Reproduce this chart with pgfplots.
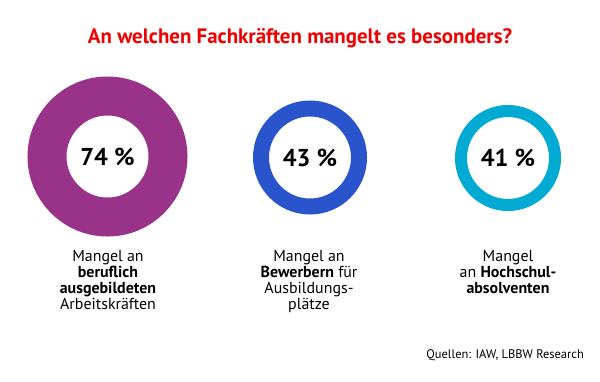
\documentclass[border=0pt]{standalone}
\usepackage{pgfplots}
\pgfplotsset{compat=1.18}
\usepackage{fontspec}
\setmainfont{PT Sans}
\definecolor{titlered}{RGB}{240,0,0}
\definecolor{cpurple}{RGB}{153,51,137}
\definecolor{cblue}{RGB}{41,84,204}
\definecolor{ccyan}{RGB}{0,170,210}
\begin{document}
\begin{tikzpicture}
\begin{axis}[
  scale only axis, width=600bp, height=381bp,
  xmin=0, xmax=600, ymin=0, ymax=381, y dir=reverse,
  hide axis, clip=false,
  point meta=explicit symbolic,
  nodes near coords={\pgfplotspointmeta{} \%},
  every node near coord/.append style={font=\bfseries\fontsize{24.5}{24}\selectfont, text=black, anchor=center, inner sep=0pt},
]
% ring: center (x,y) in px, value as meta
\addplot[cpurple, only marks, mark=o, mark size=60.5bp, mark options={line width=39bp}] coordinates {(107.5,156.5) [74]};
\addplot[cblue, only marks, mark=o, mark size=49bp, mark options={line width=16bp}] coordinates {(310,157.5) [43]};
\addplot[ccyan, only marks, mark=o, mark size=47bp, mark options={line width=12bp}] coordinates {(508,158) [41]};

\node[anchor=base, text=titlered, font=\bfseries\fontsize{21}{24}\selectfont, inner sep=0pt] at (axis cs:300,43.3) {An welchen Fachkräften mangelt es besonders?};

% anchor=base is the baseline of the last line
\begin{scope}[every node/.style={anchor=base, align=center, inner sep=0pt, font=\fontsize{16}{15.8}\selectfont}]
\node at (axis cs:108,309.1) {Mangel an\\\textbf{beruflich}\\\textbf{ausgebildeten}\\Arbeitskräften};
\node at (axis cs:309,309.1) {Mangel an\\\textbf{Bewerbern} für\\Ausbildungs-\\plätze};
\node at (axis cs:508,293.3) {Mangel\\an \textbf{Hochschul-}\\\textbf{absolventen}};
\end{scope}
\node[anchor=base east, inner sep=0pt, font=\fontsize{12.5}{14}\selectfont] at (axis cs:584,358.3) {Quellen: IAW, LBBW Research};
\coordinate (tl) at (axis cs:0,0);
\coordinate (br) at (axis cs:600,381);
\end{axis}
\pgfresetboundingbox
\useasboundingbox (tl) rectangle (br);
\end{tikzpicture}
\end{document}
